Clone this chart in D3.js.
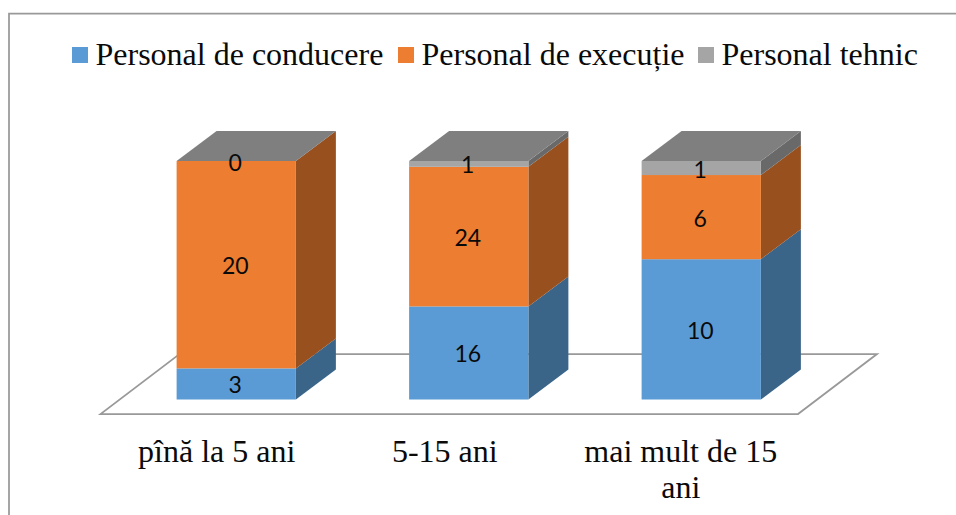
<!DOCTYPE html>
<html>
<head>
<meta charset="utf-8">
<script src="https://cdn.jsdelivr.net/npm/d3@7"></script>
<style>
  html, body { margin: 0; padding: 0; background: #fff; }
  svg { display: block; }
  .serif { font-family: "Liberation Serif", serif; font-size: 32px; fill: #0a0a0a; }
  .value { font-family: Lato, sans-serif; font-size: 23px; fill: #0a0a0a; text-anchor: middle; }
</style>
</head>
<body>
<svg width="956" height="515"></svg>
<script>
const categories = ['pînă la 5 ani', '5-15 ani', 'mai mult de 15 ani'];
const conducere = [3, 16, 10];
const executie = [20, 24, 6];
const tehnic = [0, 1, 1];
const seriesNames = ['Personal de conducere', 'Personal de execuție', 'Personal tehnic'];
const frontColors = ['#5b9bd5', '#ed7d31', '#a5a5a5'];
const sideColors = ['#3a6488', '#98501f', '#696969'];
const topColor = '#7f7f7f';

const svg = d3.select('svg');

// 3d offset of the bars and how far the floor sticks out around them
const depthX = 40;
const depthY = 30;
const floorFront = 14.5;
const floorBack = 15.5;

const rows = categories.map((c, i) => ({ cat: c, s0: conducere[i], s1: executie[i], s2: tehnic[i] }));
const stacked = d3.stack().keys(['s0', 's1', 's2']).offset(d3.stackOffsetExpand)(rows);

const x = d3.scaleBand().domain(categories).range([100.5, 798]).paddingInner(0.487).paddingOuter(0.2435);
const y = d3.scaleLinear().domain([0, 1]).range([399.5, 161]);

// bars stand in the middle of the floor, so shifted right of the front edge
const barX = (c) => x(c) + depthX / 2 - 0.5;

const poly = d3.line();

// frame, only left and top show in the picture
svg.append('path')
  .attr('d', poly([[9, 515], [9, 13.5], [956, 13.5]]))
  .attr('fill', 'none')
  .attr('stroke', '#999')
  .attr('stroke-width', 1.75);

// floor
const fy = y(0) + floorFront;
const by = y(0) - depthY - floorBack;
svg.append('path')
  .attr('d', poly([[x.range()[0], fy], [x.range()[1], fy], [x.range()[1] + 79, by], [x.range()[0] + 79, by]]) + 'Z')
  .attr('fill', '#fff')
  .attr('stroke', '#999')
  .attr('stroke-width', 1.75);

// bars
stacked.forEach((layer, k) => {
  layer.forEach((d) => {
    const c = d.data.cat;
    const x0 = barX(c);
    const x1 = x0 + x.bandwidth();
    const yb = y(d[0]);
    const yt = y(d[1]);
    svg.append('path')
      .attr('d', poly([[x1, yb], [x1 + depthX, yb - depthY], [x1 + depthX, yt - depthY], [x1, yt]]) + 'Z')
      .attr('fill', sideColors[k]);
    svg.append('rect')
      .attr('x', x0)
      .attr('y', yt)
      .attr('width', x.bandwidth())
      .attr('height', yb - yt)
      .attr('fill', frontColors[k]);
  });
});

// top faces
categories.forEach((c) => {
  const x0 = barX(c);
  const x1 = x0 + x.bandwidth();
  svg.append('path')
    .attr('d', poly([[x0, y(1)], [x1, y(1)], [x1 + depthX, y(1) - depthY], [x0 + depthX, y(1) - depthY]]) + 'Z')
    .attr('fill', topColor);
});

// value labels
stacked.forEach((layer) => {
  layer.forEach((d) => {
    const c = d.data.cat;
    svg.append('text')
      .attr('class', 'value')
      .attr('x', barX(c) + x.bandwidth() / 2 - 1)
      .attr('y', (y(d[0]) + y(d[1])) / 2 + 9.5)
      .text(d.data[layer.key]);
  });
});

// category labels through the axis, wrapped like the original
const labelNudge = [0, -4.5, -1];
const axis = svg.append('g')
  .attr('transform', `translate(0,${fy})`)
  .call(d3.axisBottom(x).tickSize(0).tickPadding(0));
axis.select('.domain').remove();
axis.selectAll('text')
  .attr('class', 'serif')
  .attr('font-size', null)
  .attr('font-family', null)
  .attr('x', (d, i) => labelNudge[i])
  .attr('y', 48)
  .attr('dy', null)
  .each(function (d, i) {
    const t = d3.select(this);
    const words = d.split(' ');
    if (words.length > 4) {
      t.text(null);
      t.append('tspan').attr('x', labelNudge[i]).text(words.slice(0, 4).join(' '));
      t.append('tspan').attr('x', labelNudge[i]).attr('dy', 36).text(words.slice(4).join(' '));
    }
  });

// legend
const legendX = [72, 398, 698];
seriesNames.forEach((name, i) => {
  svg.append('rect')
    .attr('x', legendX[i])
    .attr('y', 47)
    .attr('width', 16)
    .attr('height', 16)
    .attr('fill', frontColors[i]);
  svg.append('text')
    .attr('class', 'serif')
    .attr('x', legendX[i] + 23.5)
    .attr('y', 65)
    .text(name);
});
</script>
</body>
</html>
